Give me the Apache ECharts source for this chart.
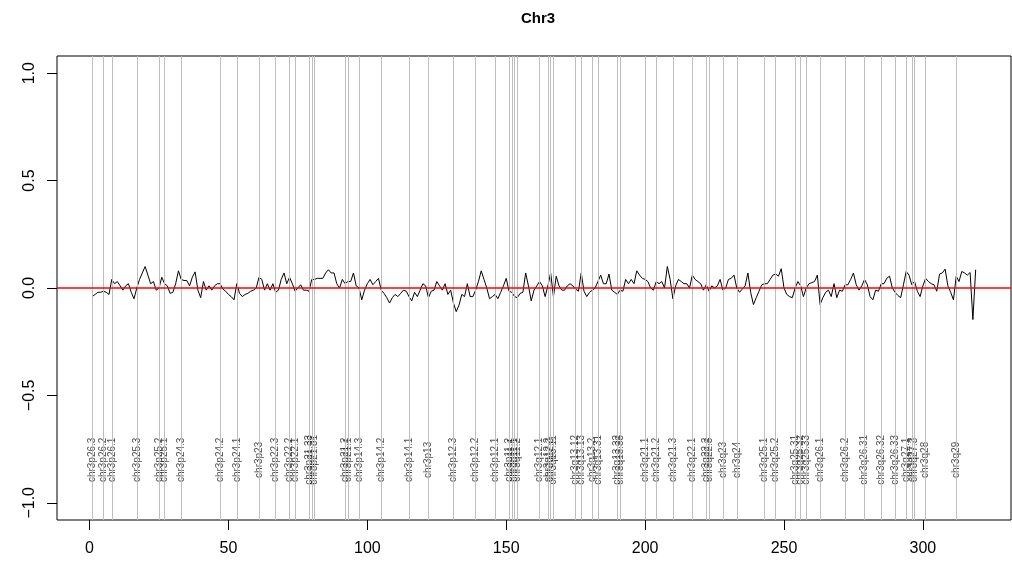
<!DOCTYPE html>
<html>
<head>
<meta charset="utf-8">
<title>Chr3</title>
<script src="https://cdn.jsdelivr.net/npm/echarts@6/dist/echarts.min.js"></script>
<style>
  html, body { margin: 0; padding: 0; background: #fff; }
  #chart { width: 1012px; height: 562px; }
</style>
</head>
<body>
<div id="chart"></div>
<script>
// 每个探针的数值（按顺序，x 从 1 开始）
const values = [
  -0.04, -0.03, -0.02, -0.02, -0.015, -0.02, -0.03, 0.04, 0.02, 0.03,
  0.01, -0.01, 0.01, 0.02, -0.02, -0.05, 0.0, 0.04, 0.07, 0.10,
  0.06, 0.02, 0.03, -0.01, 0.0, 0.05, 0.02, 0.01, -0.025, -0.02,
  0.02, 0.08, 0.04, 0.035, 0.035, 0.01, 0.05, 0.075, -0.01, -0.045,
  0.03, -0.01, 0.01, -0.01, 0.01, 0.02, 0.02, -0.005, -0.015, -0.03,
  -0.04, -0.055, 0.02, -0.025, -0.04, -0.03, -0.025, -0.015, -0.01, 0.0,
  0.05, 0.04, -0.01, 0.02, -0.01, 0.02, -0.02, -0.01, 0.04, 0.07,
  0.02, 0.05, 0.02, -0.015, 0.0, 0.015, -0.01, -0.01, -0.015, 0.04,
  0.04, 0.045, 0.045, 0.045, 0.07, 0.085, 0.07, 0.07, 0.02, 0.0,
  0.04, 0.02, 0.03, 0.03, 0.07, 0.01, 0.0, -0.055, -0.01, 0.02,
  0.04, 0.015, 0.03, 0.045, -0.01, -0.025, -0.045, -0.07, -0.045, -0.03,
  -0.04, -0.025, -0.01, -0.015, -0.04, -0.06, -0.02, -0.04, -0.01, 0.02,
  0.01, -0.045, -0.015, -0.01, 0.03, 0.01, -0.01, 0.02, -0.03, -0.01,
  -0.07, -0.11, -0.08, -0.03, -0.04, 0.02, -0.04, -0.04, -0.01, 0.03,
  0.08, 0.04, 0.0, -0.05, -0.04, -0.03, -0.05, -0.02, 0.01, 0.045,
  -0.015, -0.02, -0.04, -0.045, -0.025, -0.02, 0.07, 0.01, -0.06, -0.01,
  0.01, 0.03, 0.01, -0.04, 0.01, 0.07, -0.04, 0.055, 0.01, -0.01,
  -0.01, 0.01, 0.02, 0.01, -0.005, -0.015, 0.07, -0.015, -0.04, -0.02,
  -0.01, 0.0, 0.03, 0.06, 0.02, 0.02, 0.065, -0.01, -0.02, -0.03,
  -0.01, -0.015, 0.04, 0.02, 0.04, 0.02, 0.08, 0.06, 0.045, 0.04,
  0.03, 0.0, -0.01, 0.03, 0.02, 0.03, 0.0, 0.10, 0.04, -0.05,
  0.01, 0.04, 0.03, 0.02, 0.02, 0.0, 0.06, 0.04, 0.03, 0.02,
  -0.01, 0.015, -0.015, 0.01, 0.0, 0.01, 0.04, -0.01, 0.0, 0.04,
  0.045, 0.06, 0.0, -0.02, -0.005, 0.01, 0.07, -0.02, -0.077, -0.045,
  -0.015, 0.015, 0.02, 0.02, 0.04, 0.06, 0.065, 0.055, 0.09, 0.0,
  -0.03, -0.04, -0.045, 0.0, 0.03, 0.01, -0.04, 0.0, 0.02, 0.025,
  0.03, 0.06, -0.077, -0.045, -0.02, -0.01, -0.04, 0.02, -0.045, -0.01,
  -0.015, 0.015, 0.015, 0.04, 0.07, 0.015, -0.01, 0.01, 0.04, 0.015,
  -0.04, -0.055, -0.01, -0.015, 0.02, 0.02, 0.045, 0.055, 0.0, -0.02,
  -0.035, -0.045, 0.015, 0.077, 0.06, 0.015, 0.03, -0.015, -0.04, 0.01,
  0.045, 0.03, 0.02, 0.015, -0.015, 0.065, 0.07, 0.088, 0.01, -0.02,
  -0.055, 0.055, 0.03, 0.077, 0.07, 0.06, 0.072, -0.147, 0.085
];

// 染色体带的名称和起始位置
const bandNames = [
  "chr3p26.3", "chr3p26.2", "chr3p26.1", "chr3p25.3", "chr3p25.2", "chr3p25.1",
  "chr3p24.3", "chr3p24.2", "chr3p24.1", "chr3p23", "chr3p22.3", "chr3p22.2",
  "chr3p22.1", "chr3p21.33", "chr3p21.32", "chr3p21.31", "chr3p21.2", "chr3p21.1",
  "chr3p14.3", "chr3p14.2", "chr3p14.1", "chr3p13", "chr3p12.3", "chr3p12.2",
  "chr3p12.1", "chr3p11.2", "chr3p11.1", "chr3q11.1", "chr3q11.2", "chr3q12.1",
  "chr3q12.2", "chr3q12.3", "chr3q13.11", "chr3q13.12", "chr3q13.13", "chr3q13.2",
  "chr3q13.31", "chr3q13.32", "chr3q13.33", "chr3q21.1", "chr3q21.2", "chr3q21.3",
  "chr3q22.1", "chr3q22.2", "chr3q22.3", "chr3q23", "chr3q24", "chr3q25.1",
  "chr3q25.2", "chr3q25.31", "chr3q25.32", "chr3q25.33", "chr3q26.1", "chr3q26.2",
  "chr3q26.31", "chr3q26.32", "chr3q26.33", "chr3q27.1", "chr3q27.2", "chr3q27.3",
  "chr3q28", "chr3q29"
];
const bandPos = [
  1, 5, 8, 17, 25, 27,
  33, 47, 53, 61, 67, 72,
  74, 79, 80, 81, 92, 93,
  97, 105, 115, 122, 131, 139,
  146, 151, 152, 153, 154, 162,
  165, 166, 167, 175, 177, 181,
  183, 190, 191, 200, 204, 210,
  217, 222, 223, 228, 233, 243,
  247, 254, 256, 258, 263, 272,
  279, 285, 290, 294, 296, 297,
  301, 312
];

// 坐标轴刻度
const xTicks = [0, 50, 100, 150, 200, 250, 300];
const yTicks = [-1.0, -0.5, 0.0, 0.5, 1.0];
const bandLabelY = -0.8;

const fontFamily = "Liberation Sans, Arial, sans-serif";

function initChart() {
  const chartInstance = echarts.init(document.getElementById("chart"), null, {
    renderer: "canvas",
  });
  const lineData = values.map((v, i) => [i + 1, v]);
  const labelData = bandPos.map((p, i) => [p, bandLabelY, bandNames[i]]);

  const option = {
    animation: false,
    backgroundColor: "#fff",
    title: {
      text: "Chr3",
      left: 533,
      top: 6,
      textAlign: "center",
      textStyle: {
        fontFamily: fontFamily,
        fontSize: 15,
        fontWeight: "bold",
        color: "#000",
      },
    },
    grid: {
      left: 57,
      right: 1,
      top: 56,
      bottom: 42,
      show: true,
      borderColor: "#000",
      borderWidth: 1,
      backgroundColor: "transparent",
    },
    xAxis: {
      type: "value",
      min: -11.72,
      max: 331.72,
      axisLine: { show: false, onZero: false },
      splitLine: { show: false },
      axisTick: {
        show: true,
        length: 10,
        customValues: xTicks,
        lineStyle: { color: "#000", width: 1 },
      },
      axisLabel: {
        customValues: xTicks,
        margin: 21,
        fontSize: 16,
        fontFamily: fontFamily,
        color: "#000",
      },
    },
    yAxis: {
      type: "value",
      min: -1.08,
      max: 1.08,
      axisLine: { show: false, onZero: false },
      splitLine: { show: false },
      axisTick: {
        show: true,
        length: 10,
        customValues: yTicks,
        lineStyle: { color: "#000", width: 1 },
      },
      axisLabel: {
        customValues: yTicks,
        rotate: 90,
        margin: 19,
        fontSize: 16,
        fontFamily: fontFamily,
        color: "#000",
        formatter: (v) => v.toFixed(1).replace("-", "\u2212"),
      },
    },
    series: [
      {
        // 染色体带的分界线
        type: "line",
        data: [],
        silent: true,
        markLine: {
          silent: true,
          symbol: "none",
          animation: false,
          label: { show: false },
          lineStyle: { color: "#bebebe", width: 1, type: "solid" },
          data: bandPos.map((p) => ({ xAxis: p })),
        },
        z: 1,
      },
      {
        // 染色体带名称（竖排）
        type: "scatter",
        data: labelData,
        symbolSize: 0,
        silent: true,
        label: {
          show: true,
          position: "inside",
          rotate: 90,
          fontSize: 10,
          fontFamily: fontFamily,
          color: "#222",
          formatter: (p) => p.data[2],
        },
        z: 2,
      },
      {
        type: "line",
        data: lineData,
        showSymbol: false,
        symbol: "none",
        lineStyle: { color: "#000", width: 1 },
        z: 3,
        markLine: {
          silent: true,
          symbol: "none",
          label: { show: false },
          lineStyle: { color: "#ff0000", width: 1.5, type: "solid" },
          data: [{ yAxis: 0 }],
        },
      },
    ],
  };
  chartInstance.setOption(option);
}

initChart();
</script>
</body>
</html>
